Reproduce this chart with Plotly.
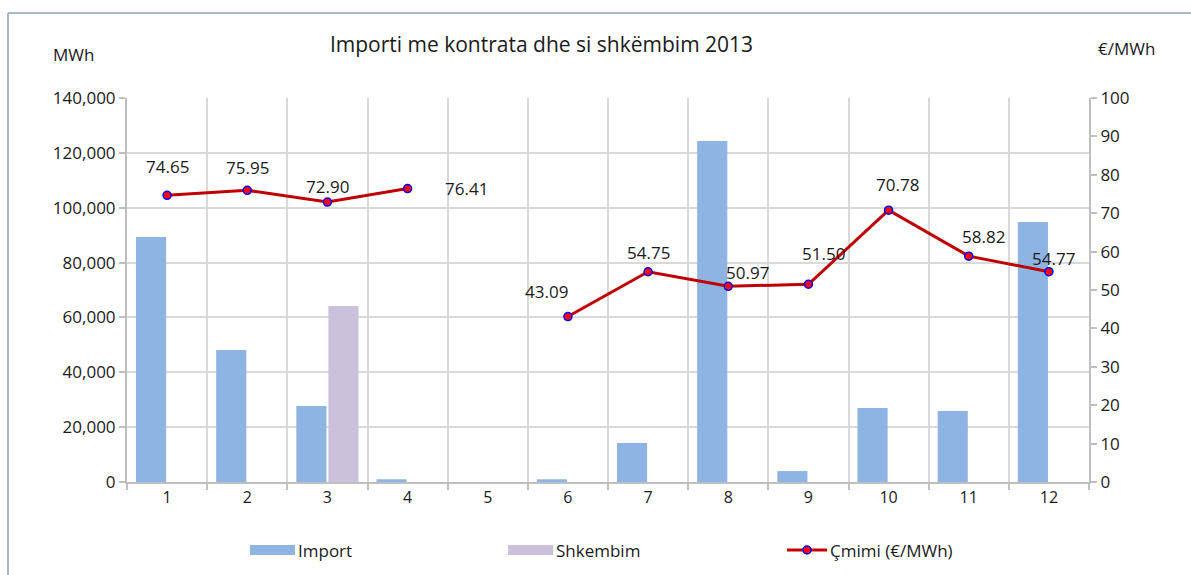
import plotly.graph_objects as go

months = ["1", "2", "3", "4", "5", "6", "7", "8", "9", "10", "11", "12"]
import_mwh = [89300, 48100, 27700, 1000, 0, 1000, 14200, 124300, 4000, 27000, 25900, 94800]
shkembim_mwh = [0, 0, 64200, 0, 0, 0, 0, 0, 0, 0, 0, 0]
cmimi = [74.65, 75.95, 72.90, 76.41, None, 43.09, 54.75, 50.97, 51.50, 70.78, 58.82, 54.77]

series_names = ["Import", "Shkembim", "Çmimi (€/MWh)"]
series_colors = ["#8EB4E3", "#CCC1DA", "#C00000"]

# label offsets (px) relative to each point
label_dx = [0, 0, 0, 59, 0, -21, 0, 19, 15, 9, 15, 5]
label_dy = [29, 23, 16, 0, 0, 25, 19, 14, 31, 26, 20, 13]

FONT = "Open Sans, Lato, sans-serif"
TXT = "#1a1a1a"
W, H = 1191, 575
L, R, T, B = 127, 102, 98, 93
pw, ph = W - L - R, H - T - B


def pp(px, py):
    """pixel -> paper coordinates"""
    return (px - L) / pw, (H - B - py) / ph


fig = go.Figure()
fig.add_trace(go.Bar(x=months, y=import_mwh, name=series_names[0], showlegend=False,
                     marker=dict(color=series_colors[0], line=dict(width=0))))
fig.add_trace(go.Bar(x=months, y=shkembim_mwh, name=series_names[1], showlegend=False,
                     marker=dict(color=series_colors[1], line=dict(width=0))))
fig.add_trace(go.Scatter(x=months, y=cmimi, name=series_names[2], yaxis="y2", showlegend=False,
                         mode="lines+markers", connectgaps=False,
                         line=dict(color=series_colors[2], width=3),
                         marker=dict(color="#FF0000", size=8,
                                     line=dict(color="#0000FF", width=1.5))))

annotations = []
for i, (v, dx, dy) in enumerate(zip(cmimi, label_dx, label_dy)):
    if v is None:
        continue
    annotations.append(dict(x=i, y=v, yref="y2", xref="x", text=f"{v:.2f}",
                            showarrow=False, xshift=dx, yshift=dy,
                            font=dict(size=17, color=TXT, family=FONT)))

for text, (px, py) in [("MWh", (73, 55)), ("€/MWh", (1126, 48))]:
    x, y = pp(px, py)
    annotations.append(dict(text=text, x=x, y=y, xref="paper", yref="paper", showarrow=False,
                            xanchor="center", yanchor="middle",
                            font=dict(size=17, color=TXT, family=FONT)))

shapes = []
# chart border (top and left visible)
x0, y0 = pp(8, 13)
x1, _ = pp(1195, 13)
_, yb = pp(8, 580)
shapes += [
    dict(type="line", xref="paper", yref="paper", x0=x0, x1=x1, y0=y0, y1=y0,
         line=dict(color="#8EA2BE", width=1.5)),
    dict(type="line", xref="paper", yref="paper", x0=x0, x1=x0, y0=y0, y1=yb,
         line=dict(color="#8EA2BE", width=1.5)),
]

# custom legend
leg_y = 550
leg_x = [250, 508, 787]
for k in range(2):
    a, ya = pp(leg_x[k], leg_y - 5)
    b, yb2 = pp(leg_x[k] + 45, leg_y + 5)
    shapes.append(dict(type="rect", xref="paper", yref="paper", x0=a, x1=b, y0=yb2, y1=ya,
                       fillcolor=series_colors[k], line=dict(width=0)))
a, yl = pp(leg_x[2], leg_y)
b, _ = pp(leg_x[2] + 40, leg_y)
shapes.append(dict(type="line", xref="paper", yref="paper", x0=a, x1=b, y0=yl, y1=yl,
                   line=dict(color=series_colors[2], width=3)))
ca, cy0 = pp(leg_x[2] + 16, leg_y - 4)
cb, cy1 = pp(leg_x[2] + 24, leg_y + 4)
shapes.append(dict(type="circle", xref="paper", yref="paper", x0=ca, x1=cb, y0=cy1, y1=cy0,
                   fillcolor="#FF0000", line=dict(color="#0000FF", width=1.5)))
for k, tx in enumerate([leg_x[0] + 46, leg_x[1] + 46, leg_x[2] + 41]):
    x, y = pp(tx, leg_y)
    annotations.append(dict(text=series_names[k], x=x, y=y, xref="paper", yref="paper",
                            xanchor="left", yanchor="middle", showarrow=False,
                            font=dict(size=17, color=TXT, family=FONT)))

fig.update_layout(
    width=W, height=H,
    margin=dict(l=L, r=R, t=T, b=B),
    paper_bgcolor="white", plot_bgcolor="white",
    font=dict(family=FONT, size=17, color=TXT),
    title=dict(text="Importi me kontrata dhe si shkëmbim 2013", x=541.5 / W, xref="container",
               xanchor="center", y=1 - 45 / H, yanchor="middle",
               font=dict(size=21, family=FONT, color=TXT)),
    barmode="group", bargap=0.2, bargroupgap=0.06,
    showlegend=False,
    xaxis=dict(type="category", tickson="boundaries", range=[-0.5, 11.5], showgrid=True,
               gridcolor="#D9D9D9", gridwidth=1.5, showline=True, linecolor="#BFBFBF",
               linewidth=2, ticks="outside", tickcolor="#BFBFBF", ticklen=6, tickwidth=1.5,
               tickfont=dict(size=16), automargin=False),
    yaxis=dict(range=[0, 140000], dtick=20000, tickformat=",", showgrid=True,
               gridcolor="#D9D9D9", gridwidth=1.5, showline=True, linecolor="#BFBFBF",
               linewidth=2, ticks="outside", tickcolor="#BFBFBF", ticklen=6,
               tickwidth=1.5, zeroline=False, tickfont=dict(size=17), automargin=False),
    yaxis2=dict(range=[0, 100], dtick=10, overlaying="y", side="right", showgrid=False,
                showline=True, linecolor="#BFBFBF", linewidth=2, ticks="outside",
                tickcolor="#BFBFBF", ticklen=6, tickwidth=1.5, zeroline=False,
                tickfont=dict(size=17), automargin=False),
    annotations=annotations,
    shapes=shapes,
)

fig.write_html("out.html", config={"displayModeBar": False},
               post_script="document.body.style.margin='0';document.body.style.overflow='hidden';")
